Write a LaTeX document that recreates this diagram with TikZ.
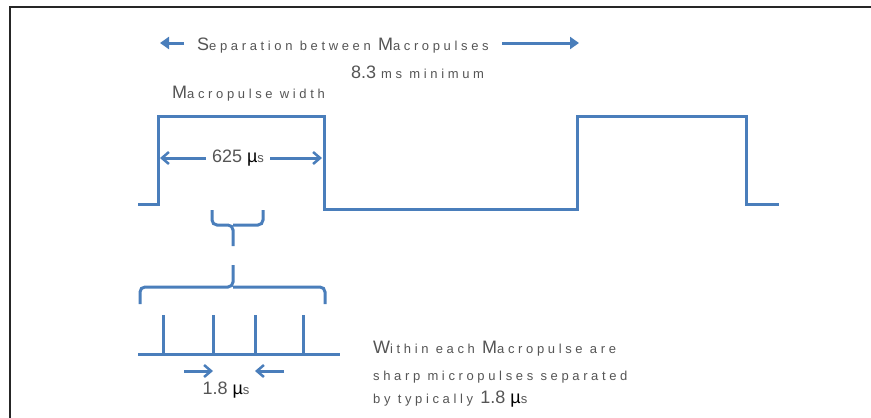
\documentclass[tikz,border=0pt]{standalone}
\usepackage{fontspec}
\setmainfont{Liberation Sans}
\newfontfamily\wfont[LetterSpace=28]{Liberation Sans}
\newfontfamily\cfont[LetterSpace=10]{Liberation Sans}
\usetikzlibrary{arrows.meta}
\definecolor{pblue}{HTML}{4A7EBB}
\definecolor{tgray}{HTML}{555555}
\newcommand{\bigc}[1]{{\fontsize{18}{18}\selectfont\cfont #1}}
\newcommand{\smt}[1]{{\fontsize{13}{13}\selectfont\wfont #1}}
\newcommand{\numt}[1]{{\fontsize{18}{18}\selectfont #1}}
\newcommand{\mus}{{\fontsize{18}{18}\selectfont\color{black}µ}{\fontsize{13}{13}\selectfont\wfont s}}
\begin{document}
\begin{tikzpicture}[x=1pt,y=-1pt,
  wave/.style={draw=pblue,line width=3pt,line join=miter},
  brc/.style={draw=pblue,line width=3pt,rounded corners=5pt},
  barb/.style={draw=pblue,line width=3pt,-{Straight Barb[length=7pt,width=12pt,line width=2.5pt]}},
  tri/.style={draw=pblue,line width=3pt,-{Triangle[length=9pt,width=12pt]}},
  lbl/.style={text=tgray,inner sep=0pt,anchor=base west}]
\useasboundingbox (0,0) rectangle (871,418);
\fill[white] (0,0) rectangle (871,418);
% frame
\draw[black!85,line width=2pt] (10,418) -- (10,7) -- (871,7);
% waveform
\coordinate (w0) at (138,204);
\coordinate (w1) at (158,204);
\coordinate (w2) at (158,116);
\coordinate (w3) at (324,116);
\coordinate (w4) at (324,209);
\coordinate (w5) at (577,209);
\coordinate (w6) at (577,116);
\coordinate (w7) at (746,116);
\coordinate (w8) at (746,204);
\coordinate (w9) at (779,204);
\draw[wave] (w0) -- (w1) -- (w2) -- (w3) -- (w4) -- (w5) -- (w6) -- (w7) -- (w8) -- (w9);
% top labels
\coordinate (sl0) at (184,43);
\coordinate (sl1) at (160,43);
\coordinate (sr0) at (502,43);
\coordinate (sr1) at (579,43);
\draw[tri] (sl0) -- (sl1);
\draw[tri] (sr0) -- (sr1);
\node[lbl] (sep) at (197,50) {\bigc{S}\smt{eparation between }\bigc{M}\smt{acropulses}};
\node[lbl] (min) at (351,78) {\numt{8.3 }\smt{ms minimum}};
\node[lbl] (mw) at (172,98) {\bigc{M}\smt{acropulse width}};
% 625 us
\node[text=tgray,inner sep=0pt] (w625) at (238,158) {\numt{625 }\mus};
\coordinate (al) at (160,158);
\coordinate (ar) at (322,158);
\draw[barb] (w625.west) ++(-6,0) -- (al);
\draw[barb] (w625.east) ++(6,0) -- (ar);
% small brace
\coordinate (sb) at (233,246);
\draw[brc] (212,210) -- (212,225) -- (233,225) -- (sb);
\draw[brc] (233,225) -- (263,225) -- (263,210);
% large brace
\coordinate (lb) at (233,265);
\draw[brc] (140,304) -- (140,287) -- (233,287) -- (lb);
\draw[brc] (233,287) -- (325,287) -- (325,304);
% micropulses
\coordinate (b0) at (138,354);
\coordinate (b1) at (340,354);
\draw[wave] (b0) -- (b1);
\foreach \x in {163,213,255,303} \draw[wave] (\x,354) -- (\x,315);
\coordinate (m1) at (213,371);
\coordinate (m2) at (255,371);
\draw[barb] (184,371) -- (m1);
\draw[barb] (284,371) -- (m2);
\node[text=tgray,inner sep=0pt] (m18) at (226,390) {\numt{1.8 }\mus};
% right text
\node[lbl] (t1) at (373,353) {\bigc{W}\smt{ithin each }\bigc{M}\smt{acropulse are}};
\node[lbl] (t2) at (373,380) {\smt{sharp micropulses separated}};
\node[lbl] (t3) at (373,403) {\smt{by typically }\numt{1.8 }\mus};
\end{tikzpicture}
\end{document}
